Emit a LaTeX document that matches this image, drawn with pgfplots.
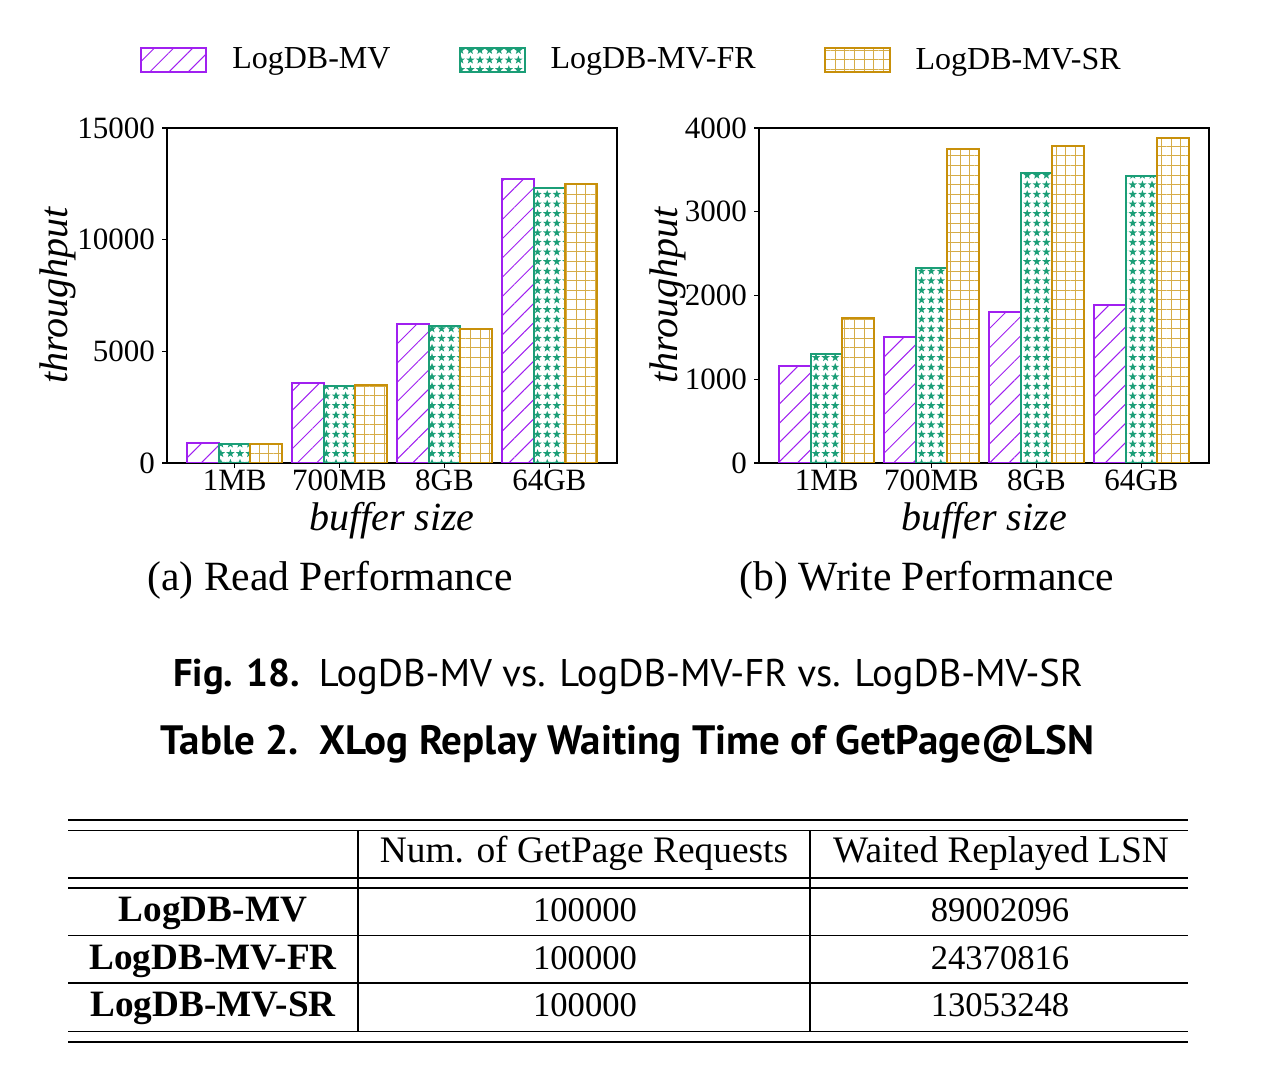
\documentclass[border=0pt]{standalone}
\usepackage{pgfplots}
\pgfplotsset{compat=1.18}
\usepackage{fontspec}
\setmainfont{Liberation Serif}
\newfontfamily\capsans{PT Sans}
\usetikzlibrary{patterns,patterns.meta}
\definecolor{cpurple}{HTML}{A020F0}
\definecolor{cgreen}{HTML}{1B9E77}
\definecolor{corange}{HTML}{C8900A}

\pgfdeclarepatternformonly{mystars}{\pgfqpoint{-2.4pt}{-2.4pt}}{\pgfqpoint{2.4pt}{2.4pt}}{\pgfqpoint{4.8pt}{4.8pt}}{%
  \pgfpathmoveto{\pgfqpoint{0pt}{2.2pt}}%
  \pgfpathlineto{\pgfqpoint{-0.52pt}{0.72pt}}%
  \pgfpathlineto{\pgfqpoint{-2.09pt}{0.68pt}}%
  \pgfpathlineto{\pgfqpoint{-0.84pt}{-0.27pt}}%
  \pgfpathlineto{\pgfqpoint{-1.29pt}{-1.78pt}}%
  \pgfpathlineto{\pgfqpoint{0pt}{-0.88pt}}%
  \pgfpathlineto{\pgfqpoint{1.29pt}{-1.78pt}}%
  \pgfpathlineto{\pgfqpoint{0.84pt}{-0.27pt}}%
  \pgfpathlineto{\pgfqpoint{2.09pt}{0.68pt}}%
  \pgfpathlineto{\pgfqpoint{0.52pt}{0.72pt}}%
  \pgfpathclose
  \pgfusepath{fill}}

\pgfplotsset{
  barlegend/.style={legend image code/.code={\draw[##1, line width=1pt] (0pt,-6pt) rectangle (32.5pt,6pt);}},
  sMV/.style={ybar, bar width=0.3, bar shift=0pt, draw=cpurple, line width=1pt,
     pattern={Lines[angle=45,distance=6.8pt,line width=0.5pt]}, pattern color=cpurple, barlegend},
  sFR/.style={ybar, bar width=0.3, bar shift=0pt, draw=cgreen, line width=1pt,
     pattern=mystars, pattern color=cgreen, barlegend},
  sSR/.style={ybar, bar width=0.3, bar shift=0pt, draw=corange, line width=1pt,
     pattern={Hatch[angle=0,distance=4.8pt,line width=0.5pt]}, pattern color=corange!75, barlegend},
  mybars/.style={
    scale only axis, width=225pt, height=167.5pt,
    xmin=-0.645, xmax=3.645, ymin=0,
    xtick={0,1,2,3}, xticklabels={1MB,700MB,8GB,64GB},
    tick align=outside, major tick length=2.5pt,
    xtick pos=left, ytick pos=left,
    axis line style={line width=0.8pt},
    every tick/.style={black, line width=0.6pt},
    tick label style={font=\fontsize{15.5}{18}\selectfont},
    xticklabel style={yshift=2.5pt},
    /pgf/number format/assume math mode=true,
    /pgf/number format/1000 sep={},
    scaled y ticks=false,
    label style={font=\fontsize{20}{24}\selectfont\itshape},
    xlabel={buffer size}, ylabel={throughput},
    x label style={at={(axis description cs:0.5,-0.173)}, anchor=center},
  }
}

\begin{document}
\begin{tikzpicture}
\useasboundingbox (0,0) rectangle (640pt,534pt);

\begin{axis}[mybars, at={(83.5pt,302.5pt)}, anchor=south west,
  ymax=15000, ytick={0,5000,10000,15000},
  y label style={at={(axis description cs:-0.242,0.5)}, anchor=center},
  legend columns=3,
  legend style={at={(axis description cs:1.0345,1.203)}, anchor=center, draw=none, fill=none,
    font=\fontsize{16}{19}\selectfont,
    /tikz/every odd column/.append style={column sep=10.5pt},
    /tikz/every even column/.append style={column sep=32pt}},
]
\addplot[sMV] coordinates {(-0.3,912) (0.7,3561) (1.7,6211) (2.7,12723)};
\addlegendentry{LogDB-MV}
\addplot[sFR] coordinates {(0,840) (1,3444) (2,6153) (3,12305)};
\addlegendentry{LogDB-MV-FR}
\addplot[sSR] coordinates {(0.3,840) (1.3,3503) (2.3,5987) (3.3,12485)};
\addlegendentry{LogDB-MV-SR}
\end{axis}

\begin{axis}[mybars, at={(379.5pt,302.5pt)}, anchor=south west,
  ymax=4000, ytick={0,1000,2000,3000,4000},
  y label style={at={(axis description cs:-0.202,0.5)}, anchor=center},
]
\addplot[sMV] coordinates {(-0.3,1154) (0.7,1505) (1.7,1799) (2.7,1888)};
\addplot[sFR] coordinates {(0,1306) (1,2333) (2,3465) (3,3421)};
\addplot[sSR] coordinates {(0.3,1732) (1.3,3751) (2.3,3782) (3.3,3875)};
\end{axis}

\node[anchor=base, font=\fontsize{20.8}{25}\selectfont] at (165pt,238.5pt) {(a) Read Performance};
\node[anchor=base, font=\fontsize{20.8}{25}\selectfont] at (463.5pt,238.5pt) {(b) Write Performance};

\node[anchor=base, font=\capsans\fontsize{19.3}{23}\selectfont] at (314pt,190.5pt) {{\bfseries Fig. 18.}\enspace LogDB-MV vs. LogDB-MV-FR vs. LogDB-MV-SR};
\node[anchor=base, font=\capsans\bfseries\fontsize{20.5}{24}\selectfont] at (313.8pt,156.5pt) {Table 2.\enspace XLog Replay Waiting Time of GetPage@LSN};

% table rules
\begin{scope}[line width=0.8pt]
\draw (34pt,124pt) -- (594pt,124pt);
\draw (34pt,118.65pt) -- (594pt,118.65pt);
\draw (34pt,95pt) -- (594pt,95pt);
\draw (34pt,89.85pt) -- (594pt,89.85pt);
\draw (34pt,66.15pt) -- (594pt,66.15pt);
\draw (34pt,42.35pt) -- (594pt,42.35pt);
\draw (34pt,18.15pt) -- (594pt,18.15pt);
\draw (34pt,12.85pt) -- (594pt,12.85pt);
\draw (179pt,118.65pt) -- (179pt,18.15pt);
\draw (405pt,118.65pt) -- (405pt,18.15pt);
\end{scope}
\begin{scope}[every node/.style={anchor=base, font=\fontsize{17.3}{20}\selectfont}]
\node[font=\fontsize{18.7}{22}\selectfont] at (292pt,102.5pt) {Num. of GetPage Requests};
\node[font=\fontsize{18.7}{22}\selectfont] at (500.5pt,102.5pt) {Waited Replayed LSN};
\node[font=\fontsize{18.6}{22}\selectfont\bfseries] at (106.5pt,73.2pt) {LogDB-MV};
\node[font=\fontsize{18.6}{22}\selectfont\bfseries] at (106.5pt,49pt) {LogDB-MV-FR};
\node[font=\fontsize{18.6}{22}\selectfont\bfseries] at (106.5pt,25.7pt) {LogDB-MV-SR};
\node at (292.5pt,73.2pt) {100000};
\node at (292.5pt,49pt) {100000};
\node at (292.5pt,25.7pt) {100000};
\node at (500pt,73.2pt) {89002096};
\node at (500pt,49pt) {24370816};
\node at (500pt,25.7pt) {13053248};
\end{scope}
\end{tikzpicture}
\end{document}
